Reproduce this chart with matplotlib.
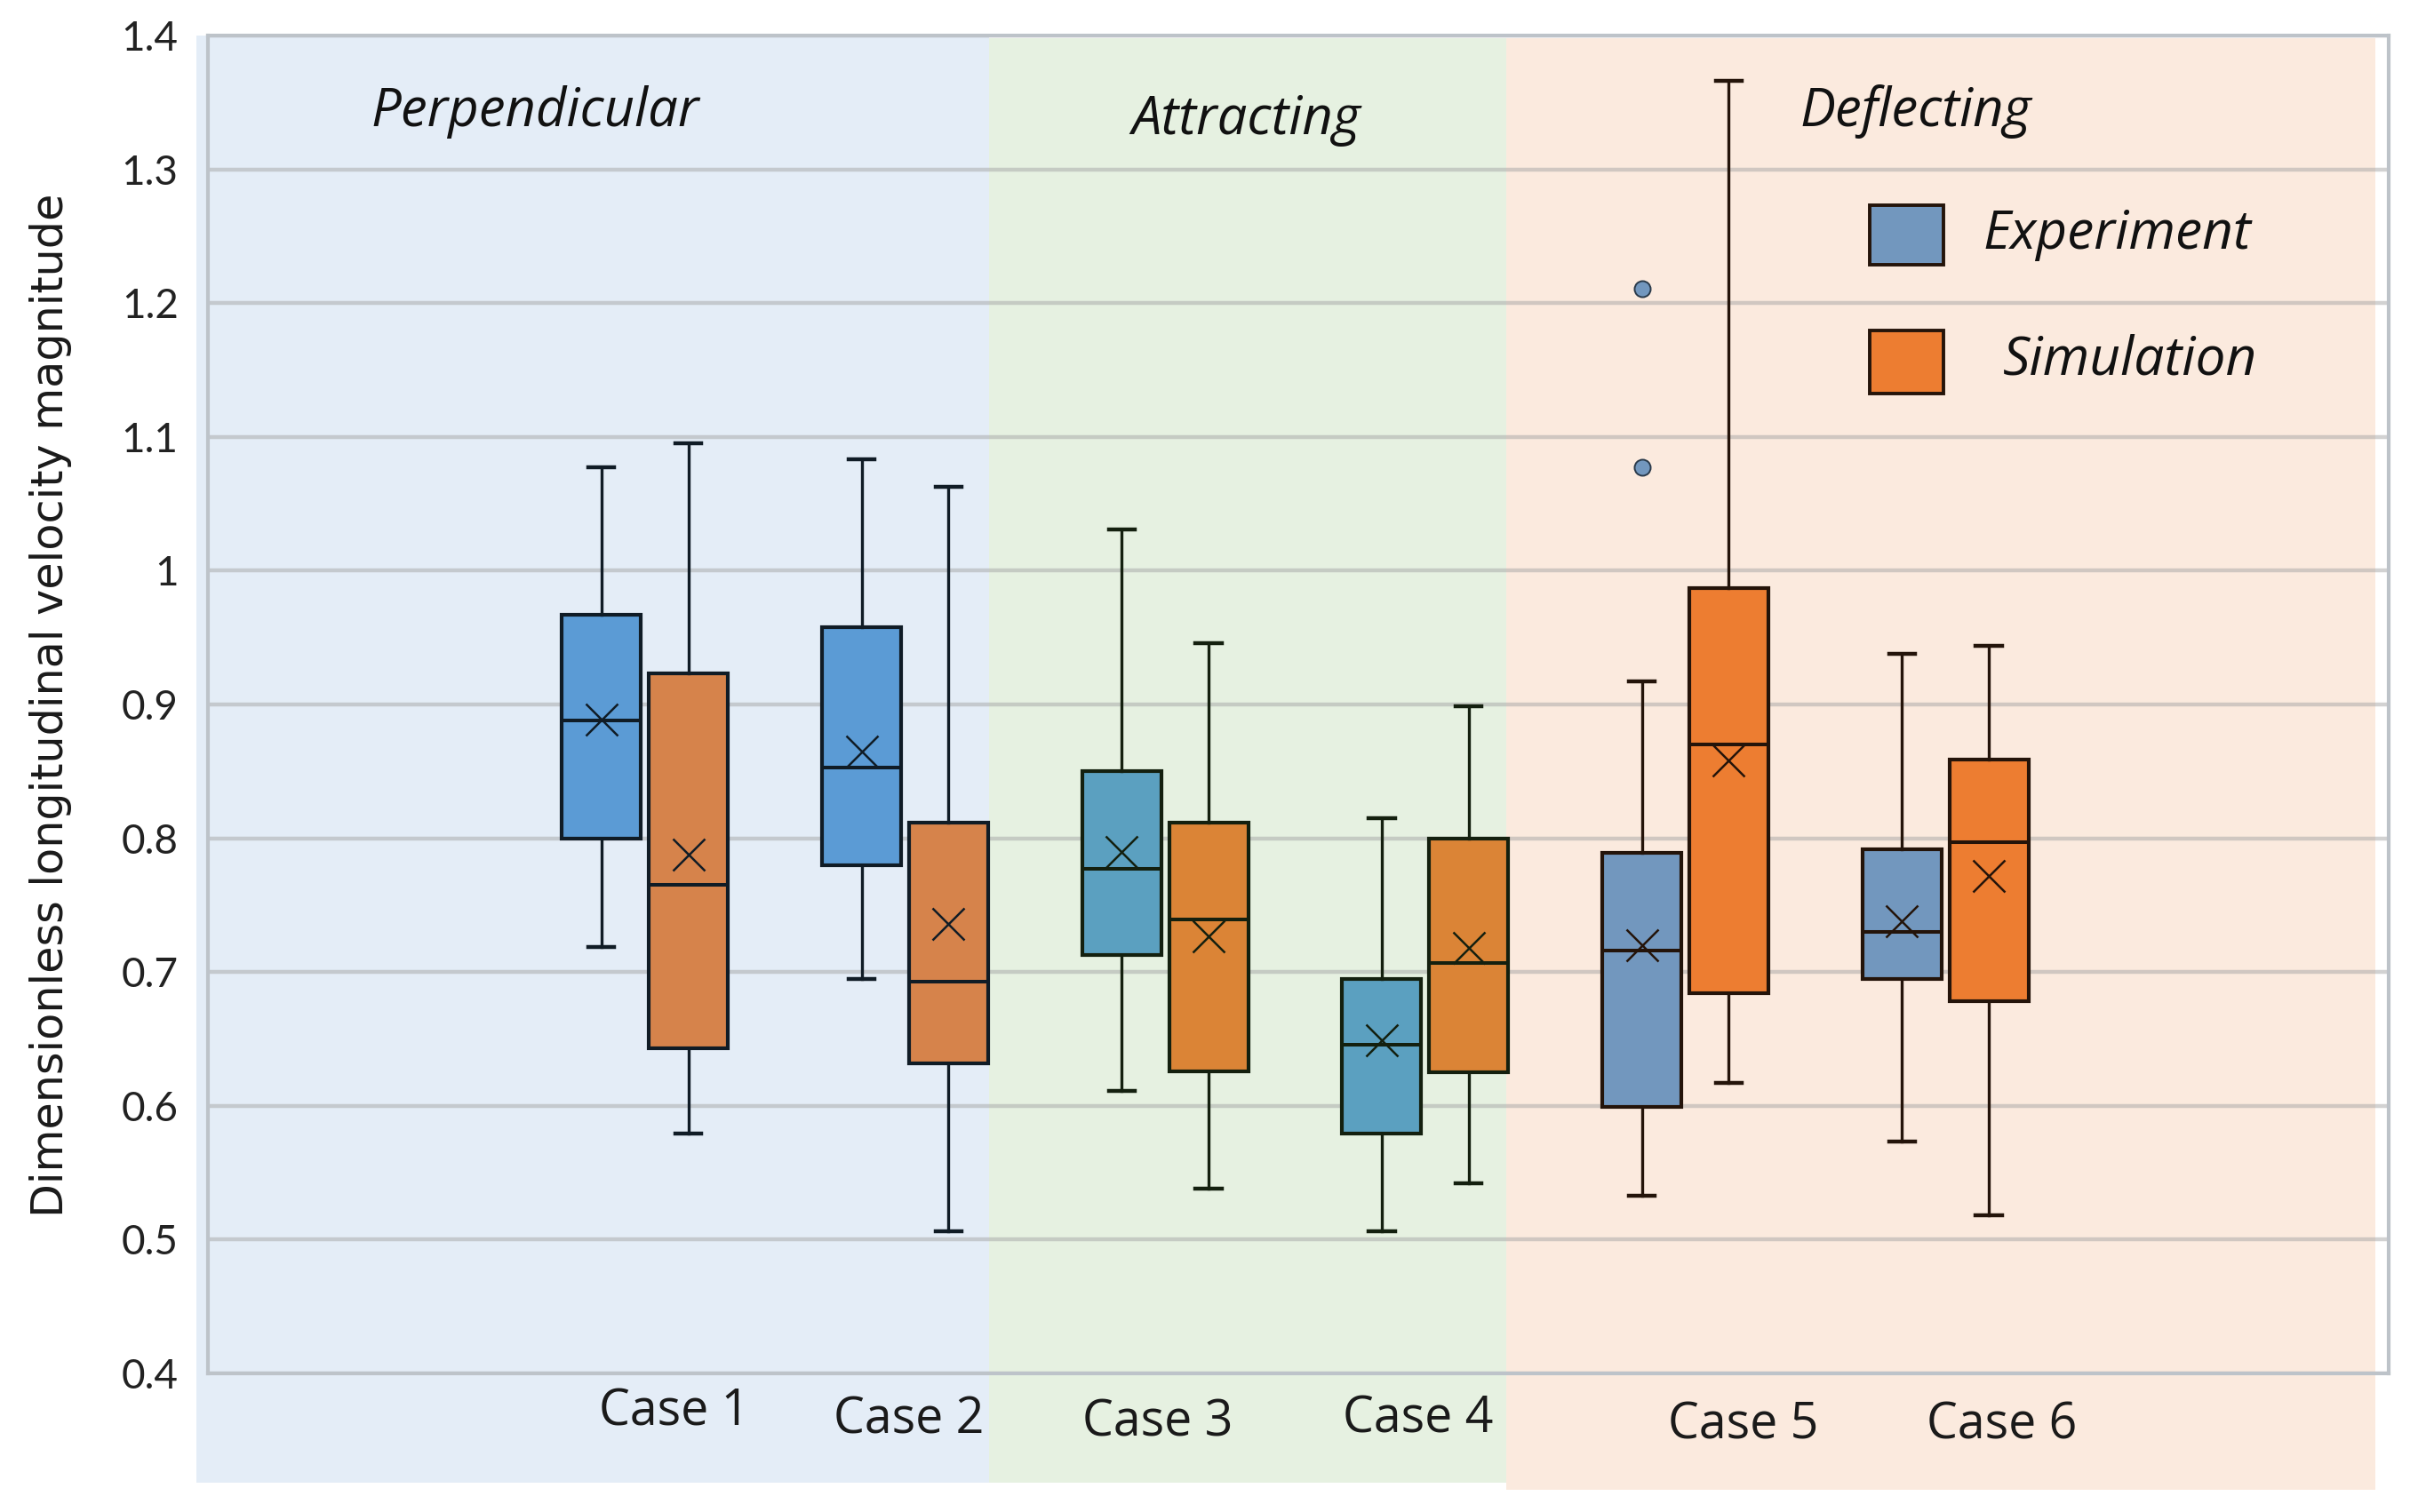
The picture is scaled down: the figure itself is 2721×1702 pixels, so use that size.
import matplotlib
matplotlib.use("Agg")
import matplotlib.pyplot as plt
from matplotlib.patches import Rectangle
from matplotlib.transforms import blended_transform_factory

plt.rcParams['font.family'] = ['Lato', 'DejaVu Sans']

# data
cases = ['Case 1', 'Case 2', 'Case 3', 'Case 4', 'Case 5', 'Case 6']
regions = ['Perpendicular', 'Attracting', 'Deflecting']

exp_whislo = [0.719, 0.695, 0.611, 0.506, 0.533, 0.573]
exp_q1 = [0.800, 0.780, 0.713, 0.579, 0.599, 0.695]
exp_med = [0.888, 0.853, 0.777, 0.646, 0.716, 0.730]
exp_mean = [0.889, 0.865, 0.790, 0.649, 0.720, 0.738]
exp_q3 = [0.967, 0.958, 0.850, 0.695, 0.789, 0.792]
exp_whishi = [1.077, 1.083, 1.031, 0.815, 0.917, 0.938]
exp_fliers = [[], [], [], [], [1.211, 1.077], []]

sim_whislo = [0.579, 0.506, 0.538, 0.542, 0.617, 0.518]
sim_q1 = [0.643, 0.632, 0.626, 0.625, 0.684, 0.678]
sim_med = [0.765, 0.693, 0.739, 0.707, 0.870, 0.797]
sim_mean = [0.788, 0.736, 0.727, 0.718, 0.858, 0.772]
sim_q3 = [0.923, 0.812, 0.812, 0.800, 0.987, 0.859]
sim_whishi = [1.095, 1.063, 0.946, 0.899, 1.366, 0.944]

yticks = [0.4, 0.5, 0.6, 0.7, 0.8, 0.9, 1.0, 1.1, 1.2, 1.3, 1.4]
yticklabels = ['0.4', '0.5', '0.6', '0.7', '0.8', '0.9', '1', '1.1', '1.2', '1.3', '1.4']

# styling
exp_colors = ['#5B9BD5', '#5B9BD5', '#5BA0C0', '#5BA0C0', '#7297BE', '#7297BE']
sim_colors = ['#D6834B', '#D6834B', '#DB8436', '#DB8436', '#ED7D31', '#ED7D31']
edge_colors = ['#101C26', '#101C26', '#14200F', '#14200F', '#24140A', '#24140A']
band_colors = ['#E4EDF7', '#E6F1E1', '#FBEADE']
band_edges = [-0.724, 2.323, 4.311, 7.652]
band_bottom = [-0.082, -0.082, -0.087]
band_top = [1.0, 0.998, 0.998]
region_x = [0.150, 0.476, 0.783]
region_y = [0.932, 0.926, 0.932]
label_dx = [0.114, 0.016, -0.028, -0.027, 0.224, 0.218]
label_y = [-0.039, -0.045, -0.047, -0.044, -0.049, -0.049]
offset = 0.167
width = 0.304
label_font = ['Open Sans', 'DejaVu Sans']

fig = plt.figure(figsize=(27.21, 17.02), dpi=100, facecolor='white')
ax = fig.add_axes([234 / 2721, 1 - 1546 / 1702, 2454 / 2721, 1506 / 1702])
ax.set_facecolor('none')

trans = blended_transform_factory(ax.transData, ax.transAxes)
for i, c in enumerate(band_colors):
    ax.add_patch(Rectangle((band_edges[i], band_bottom[i]), band_edges[i + 1] - band_edges[i],
                           band_top[i] - band_bottom[i], transform=trans, facecolor=c,
                           edgecolor='none', clip_on=False, zorder=0.1))

for i in range(len(cases)):
    pos = i + 1
    groups = [
        (pos - offset, exp_whislo[i], exp_q1[i], exp_med[i], exp_mean[i], exp_q3[i], exp_whishi[i],
         exp_fliers[i], exp_colors[i]),
        (pos + offset, sim_whislo[i], sim_q1[i], sim_med[i], sim_mean[i], sim_q3[i], sim_whishi[i],
         [], sim_colors[i]),
    ]
    ec = edge_colors[i]
    for x, lo, q1, med, mean, q3, hi, fl, fc in groups:
        stats = [dict(whislo=lo, q1=q1, med=med, mean=mean, q3=q3, whishi=hi, fliers=fl)]
        ax.bxp(stats, positions=[x], widths=width, patch_artist=True, showmeans=True,
               capwidths=0.1,
               boxprops=dict(facecolor=fc, edgecolor=ec, linewidth=3.0),
               medianprops=dict(color=ec, linewidth=2.9),
               whiskerprops=dict(color=ec, linewidth=2.4),
               capprops=dict(color=ec, linewidth=3.2),
               meanprops=dict(marker='x', markersize=26, markeredgecolor=ec,
                              markeredgewidth=1.8, linestyle='none'),
               flierprops=dict(marker='o', markersize=13, markerfacecolor=fc,
                               markeredgecolor='#2A3A4A', markeredgewidth=1.4),
               zorder=2)

ax.set_xlim(-0.680, 7.704)
ax.set_ylim(0.4, 1.4)
ax.set_yticks(yticks)
ax.set_yticklabels(yticklabels, fontsize=33, color='#222222')
ax.set_xticks([])
ax.tick_params(axis='y', length=0, pad=24)
ax.set_axisbelow(True)
ax.yaxis.grid(True, color='#A6A6A6', alpha=0.5, linewidth=3.2)
for s in ax.spines.values():
    s.set_color('#BDC3C9')
    s.set_linewidth(3)

for i, name in enumerate(cases):
    ax.text(i + 1 + label_dx[i], label_y[i], name, transform=trans, ha='center',
            va='baseline', fontsize=40, family=label_font, color='#1A1A1A')

for i, name in enumerate(regions):
    ax.text(region_x[i], region_y[i], name, transform=ax.transAxes, ha='center',
            va='baseline', fontsize=43, style='italic', family=label_font, color='#111111')

# legend
ax.add_patch(Rectangle((0.762, 0.8287), 0.0338, 0.0445, transform=ax.transAxes,
                       facecolor='#7297BE', edgecolor='#24140A', linewidth=2.8, zorder=3))
ax.add_patch(Rectangle((0.762, 0.7324), 0.0338, 0.0471, transform=ax.transAxes,
                       facecolor='#ED7D31', edgecolor='#24140A', linewidth=2.8, zorder=3))
ax.text(0.8138, 0.8513, 'Experiment', transform=ax.transAxes, ha='left', va='center',
        fontsize=43.5, style='italic', family=label_font, color='#111111')
ax.text(0.8231, 0.7576, 'Simulation', transform=ax.transAxes, ha='left', va='center',
        fontsize=43.5, style='italic', family=label_font, color='#111111')

fig.text(57 / 2721, 1 - 794 / 1702, 'Dimensionless longitudinal velocity magnitude',
         rotation=90, ha='center', va='center', fontsize=35.5, family='DejaVu Sans',
         color='#1A1A1A')

fig.savefig('out.png', dpi=100, facecolor='white')
